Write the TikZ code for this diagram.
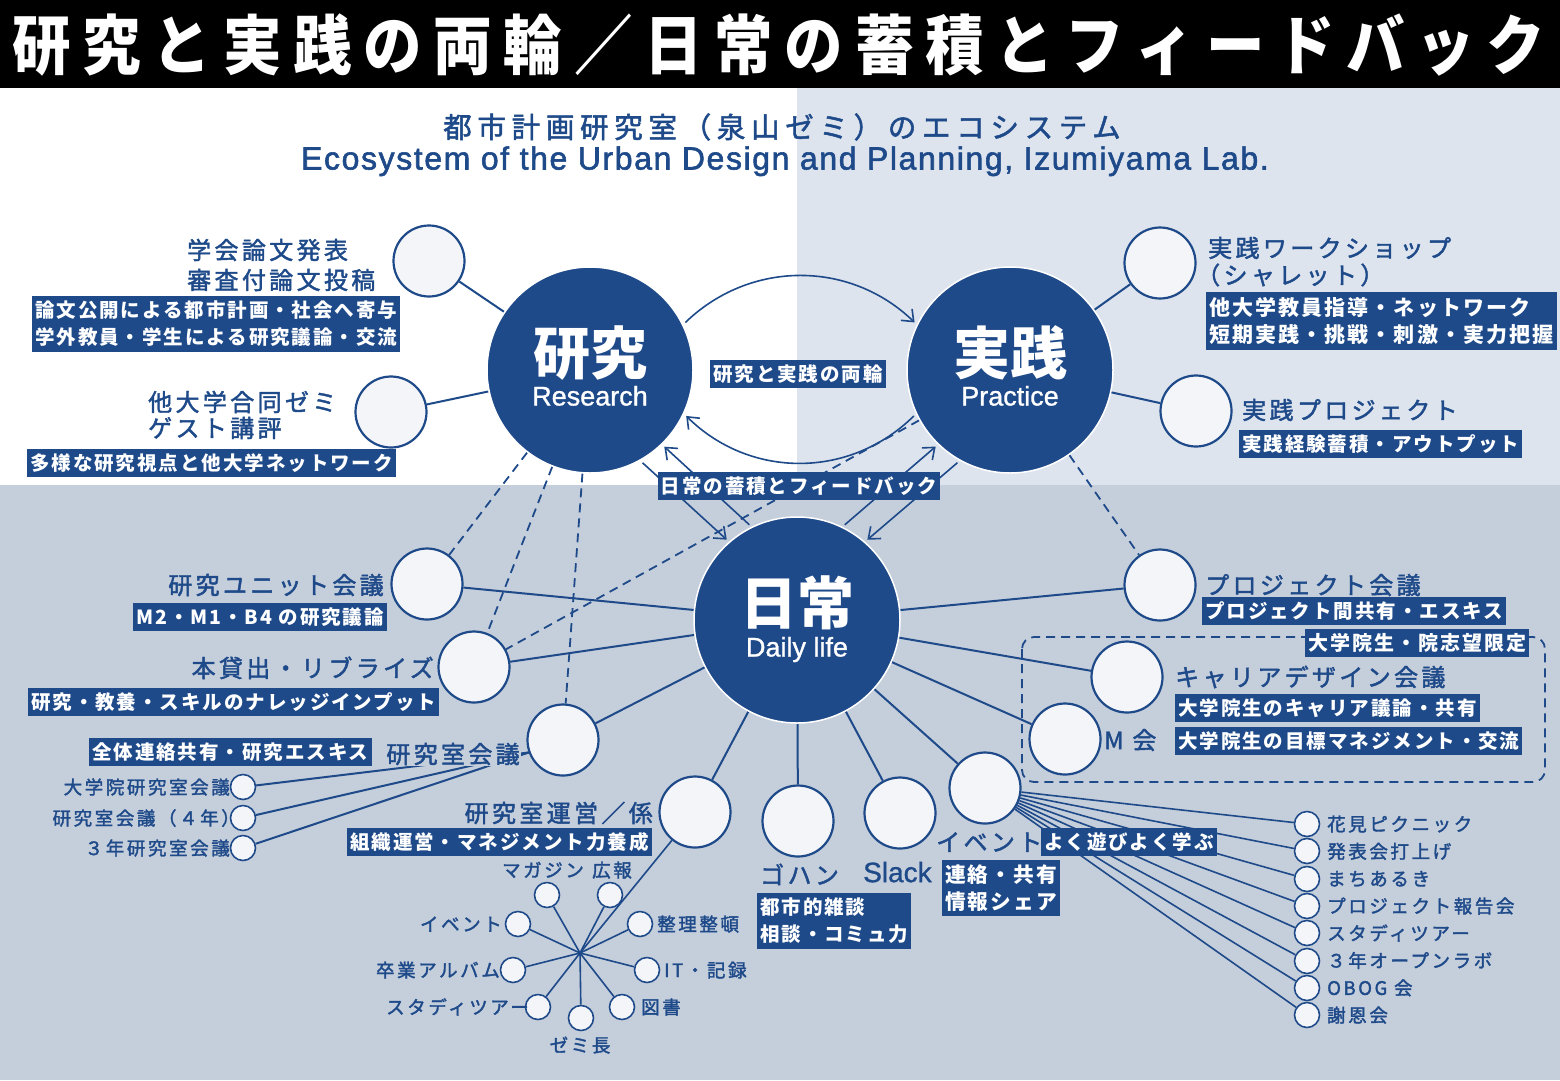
\documentclass[tikz,border=0pt]{standalone}
\usepackage{fontspec}
\setmainfont{Noto Sans CJK JP}
\newfontfamily\lat[FakeBold=1]{Liberation Sans}
\newfontfamily\latsp[LetterSpace=5,FakeBold=1.8]{Liberation Sans}
\newfontfamily\jl[LetterSpace=14,FakeBold=1.8]{Noto Sans CJK JP}
\newfontfamily\jt[LetterSpace=20,FakeBold=1.8]{Noto Sans CJK JP}
\newfontfamily\jb[LetterSpace=10]{Noto Sans CJK JP}
\newfontfamily\ttl[FakeStretch=0.9]{Noto Sans CJK JP}
\usetikzlibrary{arrows.meta}
\definecolor{navy}{RGB}{30,74,138}
\definecolor{bgR}{RGB}{221,228,238}
\definecolor{bgB}{RGB}{197,206,219}
\definecolor{cfill}{RGB}{244,245,248}
\pgfdeclarelayer{bg}
\pgfdeclarelayer{lines}
\pgfsetlayers{bg,lines,main}
\begin{document}
\begin{tikzpicture}[x=1pt,y=-1pt,
  big/.style={circle,fill=navy,draw=white,line width=1.5pt,minimum size=206pt,inner sep=0pt},
  sc/.style={circle,fill=cfill,draw=navy,line width=2.2pt,minimum size=71pt,inner sep=0pt},
  ssc/.style={circle,fill=cfill,draw=navy,line width=1.6pt,minimum size=25pt,inner sep=0pt},
  con/.style={draw=navy,line width=2pt},
  thin/.style={draw=navy,line width=1.6pt},
  dsh/.style={draw=navy,line width=1.8pt,dash pattern=on 9pt off 6pt},
  arr/.style={draw=navy,line width=1.6pt,-{Straight Barb[length=10pt,width=16pt]},shorten >=3pt,shorten <=3pt},
  bigj/.style={text=white,inner sep=0pt,font=\bfseries\fontsize{57}{57}\selectfont,text height=50pt,text depth=7pt},
  bige/.style={text=white,inner sep=0pt,font=\lat\fontsize{27}{27}\selectfont,text height=20pt,text depth=5pt},
  lbl/.style={text=navy,inner sep=0pt,font=\jl\fontsize{24}{30}\selectfont,text height=21.1pt,text depth=2.9pt},
  slbl/.style={text=navy,inner sep=0pt,font=\jl\fontsize{18.5}{24}\selectfont,text height=16.3pt,text depth=2.2pt},
  bx/.style={fill=navy,text=white,inner xsep=3pt,inner ysep=4.5pt,font=\jb\bfseries\fontsize{19.5}{27}\selectfont,text height=17.2pt,text depth=2.3pt},
  bxx/.style={fill=navy,text=white,inner xsep=3pt,inner ysep=5pt,font=\jb\bfseries\fontsize{19.5}{27}\selectfont,align=left},
]
\useasboundingbox (0,0) rectangle (1560,1080);
\begin{pgfonlayer}{bg}
\fill[white] (0,0) rectangle (1560,1080);
\fill[black] (0,0) rectangle (1560,88);
\fill[bgR] (797,88) rectangle (1560,485);
\fill[bgB] (0,485) rectangle (1560,1080);
\end{pgfonlayer}

% title
\node[text=white,inner sep=0pt,font=\ttl\bfseries\fontsize{65}{65}\selectfont] (title) at (779,45)
 {\makebox[1533pt]{研\hfill 究\hfill と\hfill 実\hfill 践\hfill の\hfill 両\hfill 輪\hfill ／\hfill 日\hfill 常\hfill の\hfill 蓄\hfill 積\hfill と\hfill フ\hfill ィ\hfill ー\hfill ド\hfill バ\hfill ッ\hfill ク}};
\node[text=navy,inner sep=0pt,font=\jt\fontsize{28.5}{30}\selectfont,text height=25pt,text depth=3.4pt] (st1) at (782,127) {都市計画研究室（泉山ゼミ）のエコシステム};
\node[text=navy,inner sep=0pt,font=\latsp\fontsize{32}{32}\selectfont,text height=23pt,text depth=0pt] (st2) at (785,158) {Ecosystem of the Urban Design and Planning, Izumiyama Lab.};

% big circles
\node[big] (R) at (590,370) {};
\node[big] (P) at (1010,370) {};
\node[big] (D) at (797,620) {};
\node[bigj] (Rj) at (590,353) {研究};
\node[bige] (Re) at (590,398) {Research};
\node[bigj] (Pj) at (1010,353) {実践};
\node[bige] (Pe) at (1010,398) {Practice};
\node[bigj] (Dj) at (797,603) {日常};
\node[bige] (De) at (797,649) {Daily life};

% small circles
\node[sc] (cGak) at (429,261) {};
\node[sc] (cTad) at (391,412) {};
\node[sc] (cWS) at (1160,263) {};
\node[sc] (cPJ) at (1196,411) {};
\node[sc] (cUnit) at (427,584) {};
\node[sc] (cHon) at (474,667) {};
\node[sc] (cKai) at (563,740) {};
\node[sc] (cUnei) at (695,812) {};
\node[sc] (cGoh) at (798,821) {};
\node[sc] (cSl) at (900,813) {};
\node[sc] (cEv) at (985,788) {};
\node[sc] (cPjk) at (1160,585) {};
\node[sc] (cCar) at (1127,677) {};
\node[sc] (cM) at (1065,739) {};

% sub circles
\node[ssc] (k1) at (243,787) {};
\node[ssc] (k2) at (243,818) {};
\node[ssc] (k3) at (243,848) {};
\coordinate (hub) at (580,953);
\node[ssc] (s1) at (547,895) {};
\node[ssc] (s2) at (610,895) {};
\node[ssc] (s3) at (640,924) {};
\node[ssc] (s4) at (647,970) {};
\node[ssc] (s5) at (622,1007) {};
\node[ssc] (s6) at (581,1018) {};
\node[ssc] (s7) at (538,1007) {};
\node[ssc] (s8) at (513,970) {};
\node[ssc] (s9) at (518,924) {};
\foreach \i/\y in {1/824,2/851,3/879,4/906,5/933,6/961,7/988,8/1015}
  \node[ssc] (e\i) at (1307,\y) {};

% connectors
\begin{pgfonlayer}{lines}
\draw[con] (cGak) -- (R);
\draw[con] (cTad) -- (R);
\draw[con] (cWS) -- (P);
\draw[con] (cPJ) -- (P);
\foreach \c in {cUnit,cHon,cKai,cUnei,cGoh,cSl,cEv,cPjk,cCar,cM}
  \draw[con] (D) -- (\c);
\foreach \k in {k1,k2,k3}
  \draw[con] (\k) -- (cKai.200);
\draw[thin] (hub) -- (cUnei);
\foreach \s in {s1,s2,s3,s4,s5,s6,s7,s8,s9}
  \draw[thin] (hub) -- (\s);
\foreach \i in {1,...,8}
  \draw[thin] (cEv) -- (e\i);
\draw[dsh] (R) -- (cUnit);
\draw[dsh] (R) -- (cHon);
\draw[dsh] (R) -- (cKai);
\draw[dsh] (P) -- (cHon);
\draw[dsh] (P) -- (cPjk);
\draw[arr] (R.26) .. controls (750,260) and (850,260) .. (P.154);
\draw[arr] (P.-155) .. controls (850,479) and (750,479) .. (R.-25);
\draw[arr] (D.116) -- (R.-46);
\draw[arr] (R.-61) -- (D.131);
\draw[arr] (D.64) -- (P.-134);
\draw[arr] (P.-119) -- (D.49);
\draw[dsh,rounded corners=12pt] (1022,637) rectangle (1545,782);
\end{pgfonlayer}

% labels and boxes
\node[lbl,anchor=west] (tGak1) at (187,250) {学会論文発表};
\node[lbl,anchor=west] (tGak2) at (187,280) {審査付論文投稿};
\node[bxx,anchor=west] (bGak) at (32,324) {論文公開による都市計画・社会へ寄与\\学外教員・学生による研究議論・交流};
\node[lbl,anchor=west] (tTad1) at (148,402) {他大学合同ゼミ};
\node[lbl,anchor=west] (tTad2) at (148,428) {ゲスト講評};
\node[bx,anchor=west] (bTad) at (27,463) {多様な研究視点と他大学ネットワーク};
\node[lbl,anchor=west] (tWS1) at (1208,248) {実践ワークショップ};
\node[lbl,anchor=west] (tWS2) at (1196,275) {（シャレット）};
\node[bxx,anchor=west,font=\jb\bfseries\fontsize{21}{27}\selectfont] (bWS) at (1206,321) {他大学教員指導・ネットワーク\\短期実践・挑戦・刺激・実力把握};
\node[lbl,anchor=west] (tPJ) at (1242,410) {実践プロジェクト};
\node[bx,anchor=west] (bPJ) at (1239,444) {実践経験蓄積・アウトプット};
\node[bx] (bRyo) at (798,374) {研究と実践の両輪};
\node[bx] (bNic) at (799,486) {日常の蓄積とフィードバック};

\node[lbl,anchor=east] (tUnit) at (384,585) {研究ユニット会議};
\node[bx,anchor=west] (bUnit) at (133,617) {M2・M1・B4 の研究議論};
\node[lbl,anchor=east] (tHon) at (434,668) {本貸出・リブライズ};
\node[bx,anchor=west] (bHon) at (28,702) {研究・教養・スキルのナレッジインプット};
\node[lbl,anchor=east,fill=bgB,inner xsep=1pt] (tKai) at (521,754) {研究室会議};
\node[bx,anchor=west] (bKai) at (89,752) {全体連絡共有・研究エスキス};
\node[slbl,anchor=east] (tk1) at (230,787) {大学院研究室会議};
\node[slbl,anchor=east] (tk2) at (240,818) {研究室会議（４年）};
\node[slbl,anchor=east] (tk3) at (230,848) {３年研究室会議};
\node[lbl,anchor=east] (tUnei) at (653,813) {研究室運営／係};
\node[bx,anchor=west] (bUnei) at (347,842) {組織運営・マネジメント力養成};

\node[slbl] (ts1) at (543,870) {マガジン};
\node[slbl] (ts2) at (612,870) {広報};
\node[slbl,anchor=west] (ts3) at (657,924) {整理整頓};
\node[slbl,anchor=west] (ts4) at (664,970) {IT・記録};
\node[slbl,anchor=west] (ts5) at (641,1007) {図書};
\node[slbl] (ts6) at (580,1045) {ゼミ長};
\node[slbl,anchor=east] (ts7) at (529,1007) {スタディツアー};
\node[slbl,anchor=east] (ts8) at (500,970) {卒業アルバム};
\node[slbl,anchor=east] (ts9) at (502,924) {イベント};

\node[lbl,anchor=west] (tGoh) at (760,875) {ゴハン};
\node[bxx,anchor=west] (bGoh) at (757,921) {都市的雑談\\相談・コミュ力};
\node[lbl,anchor=west,font=\lat\fontsize{28}{28}\selectfont] (tSl) at (863,873) {Slack};
\node[bxx,anchor=west,font=\jb\bfseries\fontsize{20.7}{27}\selectfont] (bSl) at (942,888) {連絡・共有\\情報シェア};
\node[lbl,anchor=west] (tEv) at (936,842) {イベント};
\node[bx,anchor=west] (bEv) at (1041,842) {よく遊びよく学ぶ};

\node[lbl,anchor=west] (tPjk) at (1205,585) {プロジェクト会議};
\node[bx,anchor=west] (bPjk) at (1202,611) {プロジェクト間共有・エスキス};
\node[bx,anchor=west,font=\jb\bfseries\fontsize{20}{27}\selectfont] (bIn) at (1305,643) {大学院生・院志望限定};
\node[lbl,anchor=west] (tCar) at (1175,677) {キャリアデザイン会議};
\node[bx,anchor=west] (bCar) at (1175,708) {大学院生のキャリア議論・共有};
\node[lbl,anchor=west] (tM) at (1104,740) {M 会};
\node[bx,anchor=west] (bM) at (1175,741) {大学院生の目標マネジメント・交流};

\foreach \i/\t in {1/花見ピクニック,2/発表会打上げ,3/まちあるき,4/プロジェクト報告会,5/スタディツアー,6/３年オープンラボ,7/OBOG 会,8/謝恩会}
  \node[slbl,anchor=west] (te\i) at (1327,{824+27.3*(\i-1)}) {\t};
\end{tikzpicture}
\end{document}
